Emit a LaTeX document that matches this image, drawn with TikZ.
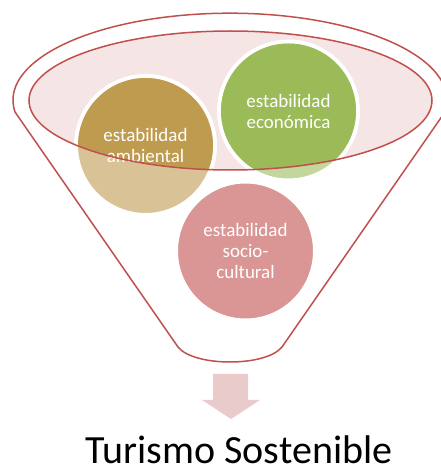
\documentclass[tikz,border=0pt]{standalone}
\usepackage{fontspec}
\setmainfont{Carlito}
\usepackage{xcolor}
\usepackage{tikz}

\definecolor{funnelred}{RGB}{192,80,77}
\definecolor{rimpink}{RGB}{245,229,228}
\definecolor{ambtan}{RGB}{191,155,80}
\definecolor{ecogreen}{RGB}{155,187,89}
\definecolor{socred}{RGB}{192,80,77}
\definecolor{arrowpink}{RGB}{234,203,203}

\begin{document}
\begin{tikzpicture}[x=1pt,y=1pt,
  circ/.style={circle, draw=white, line width=4pt, minimum size=139pt, inner sep=0pt},
  lbl/.style={text=white, align=center, font=\fontsize{19}{21}\selectfont},
  rim/.style={draw=funnelred, line width=1.5pt}]
\useasboundingbox (0,0) rectangle (440,472);

% Funnel
\draw[rim] (178,125) -- (15,360) arc[start angle=187.8, end angle=-7.8, x radius=217, y radius=87]
  -- (282,125) .. controls (266,105) and (194,105) .. (178,125) -- cycle;
\fill[rimpink] (230.5,371.5) ellipse [x radius=201.5, y radius=69.5];

% Circles
\node[circ, fill=ambtan!60] (amb) at (145.5,326.5) {};
\node[circ, fill=ecogreen!60] (eco) at (288.5,361) {};
\node[circ, fill=socred!60] (soc) at (245.5,221) {};
\begin{scope}
  \clip (230.5,371.5) ellipse [x radius=201.5, y radius=69.5];
  \fill[ambtan] (amb) circle [radius=67.5];
  \fill[ecogreen] (eco) circle [radius=67.5];
\end{scope}

%Labels
\node[lbl] (ambtext) at (amb) {estabilidad\\ambiental};
\node[lbl] (ecotext) at (eco) {estabilidad\\económica};
\node[lbl] (soctext) at (soc) {estabilidad\\socio-\\cultural};
\draw[rim] (230.5,371.5) ellipse [x radius=201.5, y radius=69.5];

% Arrow and result
\fill[arrowpink] (213,98) -- (248,98) -- (248,72) -- (260,72) -- (231,53) -- (202,72) -- (213,72) -- cycle;
\node[font=\fontsize{40}{44}\selectfont, anchor=base, inner sep=0pt] (title) at (239,9) {Turismo Sostenible};
\end{tikzpicture}
\end{document}
